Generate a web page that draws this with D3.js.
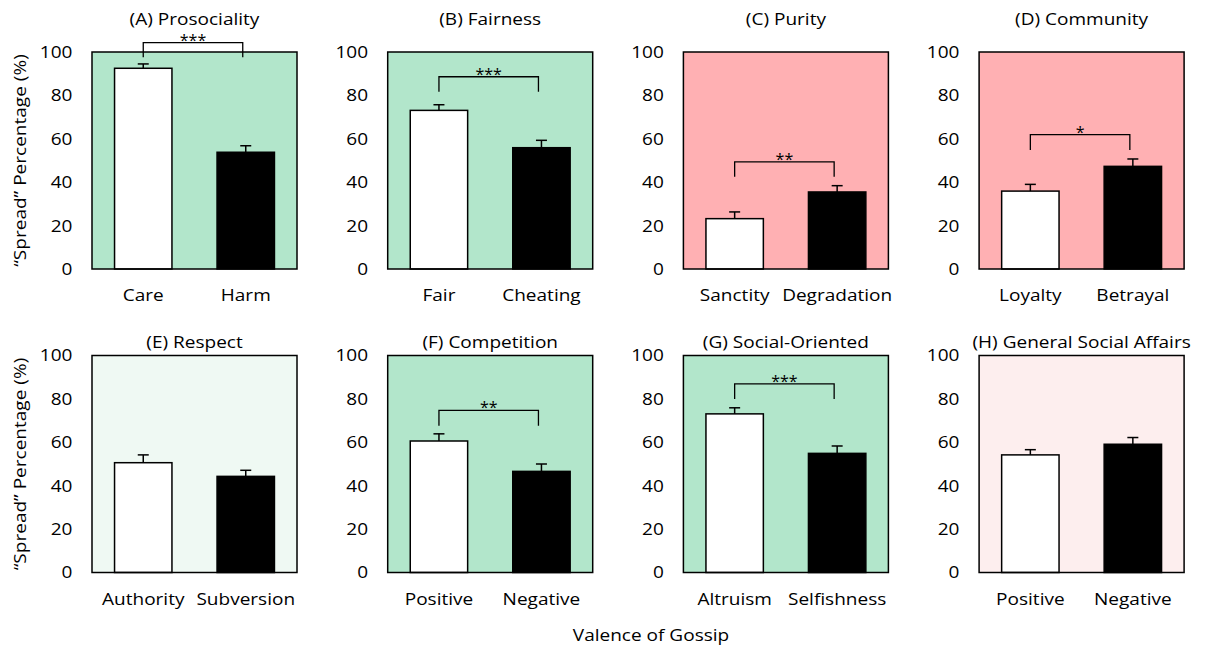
<!DOCTYPE html>
<html lang="en">
<head>
<meta charset="UTF-8">
<title>Spread percentage by gossip valence</title>
<script src="https://cdn.jsdelivr.net/npm/d3@7"></script>
<style>
  body { margin: 0; background: #fff; }
  text { font-family: "Open Sans", sans-serif; fill: #000; }
</style>
</head>
<body>
<div id="chart"></div>
<script>
// panel data (A..H)
var panelTitles = ["(A) Prosociality", "(B) Fairness", "(C) Purity", "(D) Community",
                   "(E) Respect", "(F) Competition", "(G) Social-Oriented", "(H) General Social Affairs"];
var leftLabels  = ["Care", "Fair", "Sanctity", "Loyalty", "Authority", "Positive", "Altruism", "Positive"];
var rightLabels = ["Harm", "Cheating", "Degradation", "Betrayal", "Subversion", "Negative", "Selfishness", "Negative"];
var leftMeans   = [92.5, 73.1, 23.2, 35.9, 50.6, 60.6, 73.1, 54.2];
var leftErrors  = [2.0, 2.6, 3.1, 3.1, 3.6, 3.3, 2.8, 2.4];
var rightMeans  = [53.8, 55.9, 35.5, 47.3, 44.3, 46.6, 54.9, 59.1];
var rightErrors = [3.0, 3.4, 2.9, 3.4, 2.8, 3.4, 3.4, 3.1];
var sigLabels   = ["***", "***", "**", "*", "", "**", "***", ""];
var bracketTop  = [104.3, 88.6, 49.4, 61.9, null, 74.7, 86.9, null];
var bracketFoot = [97.6, 81.7, 42.5, 54.8, null, 67.6, 80.0, null];
var panelFills  = ["#b2e6cb", "#b2e6cb", "#ffb0b3", "#ffb0b3", "#eff9f3", "#b2e6cb", "#b2e6cb", "#fdeeee"];
var yTicks      = [0, 20, 40, 60, 80, 100];

var W = 1206, H = 653;
var pw = 205, ph = 217;
var stretch = 1.12;   // source text is a bit wider than the fonts we have

var svg = d3.select("#chart").append("svg")
    .attr("width", W)
    .attr("height", H);

function stretchedText(g, x, y, str, size, anchor) {
    return g.append("text")
        .attr("transform", "translate(" + x + "," + y + ") scale(" + stretch + ",1)")
        .attr("text-anchor", anchor || "middle")
        .style("font-size", size + "px")
        .text(str);
}

var y = d3.scaleLinear().domain([0, 100]).range([ph, 0]);

panelTitles.forEach(function (title, i) {
    var col = i % 4, row = Math.floor(i / 4);
    var left = 92 + col * 295.7;
    var top = row === 0 ? 52 : 355.5;

    var g = svg.append("g").attr("transform", "translate(" + left + "," + top + ")");

    var x = d3.scaleBand()
        .domain([leftLabels[i], rightLabels[i] + " "])
        .range([0, pw])
        .paddingInner(0.44)
        .paddingOuter(0.22);

    // background
    g.append("rect")
        .attr("width", pw).attr("height", ph)
        .attr("fill", panelFills[i]);

    var bars = [
        {cat: leftLabels[i], mean: leftMeans[i], err: leftErrors[i], fill: "#fff"},
        {cat: rightLabels[i] + " ", mean: rightMeans[i], err: rightErrors[i], fill: "#000"}
    ];

    g.selectAll(".bar").data(bars).enter().append("rect")
        .attr("class", "bar")
        .attr("x", function (d) { return x(d.cat); })
        .attr("y", function (d) { return y(d.mean); })
        .attr("width", x.bandwidth())
        .attr("height", function (d) { return ph - y(d.mean); })
        .attr("fill", function (d) { return d.fill; })
        .attr("stroke", "#000")
        .attr("stroke-width", 1.5);

    // error bars (upper only)
    var eb = g.selectAll(".err").data(bars).enter().append("g").attr("class", "err");
    eb.append("line")
        .attr("x1", function (d) { return x(d.cat) + x.bandwidth() / 2; })
        .attr("x2", function (d) { return x(d.cat) + x.bandwidth() / 2; })
        .attr("y1", function (d) { return y(d.mean); })
        .attr("y2", function (d) { return y(d.mean + d.err); })
        .attr("stroke", "#000").attr("stroke-width", 1.5);
    eb.append("line")
        .attr("x1", function (d) { return x(d.cat) + x.bandwidth() / 2 - 5.5; })
        .attr("x2", function (d) { return x(d.cat) + x.bandwidth() / 2 + 5.5; })
        .attr("y1", function (d) { return y(d.mean + d.err); })
        .attr("y2", function (d) { return y(d.mean + d.err); })
        .attr("stroke", "#000").attr("stroke-width", 1.5);

    // frame
    g.append("rect")
        .attr("width", pw).attr("height", ph)
        .attr("fill", "none")
        .attr("stroke", "#000")
        .attr("stroke-width", 1.5);

    // y axis
    var ya = g.append("g")
        .call(d3.axisLeft(y).tickValues(yTicks).tickSize(0).tickPadding(17.5));
    ya.select(".domain").remove();
    ya.selectAll("text")
        .style("font-size", "17px")
        .style("font-family", "'Open Sans', sans-serif")
        .attr("fill", "#000")
        .attr("transform", "scale(" + stretch + ",1)");

    // category labels
    bars.forEach(function (d) {
        stretchedText(g, x(d.cat) + x.bandwidth() / 2, ph + 32, d.cat.trim(), 17);
    });

    // title
    stretchedText(g, pw / 2, row === 0 ? -27 : -8, title, 17);

    // significance bracket
    if (bracketTop[i] !== null) {
        var x1 = x(bars[0].cat) + x.bandwidth() / 2;
        var x2 = x(bars[1].cat) + x.bandwidth() / 2 - 3;
        g.append("path")
            .attr("d", "M" + x1 + "," + y(bracketFoot[i]) +
                       "V" + y(bracketTop[i]) +
                       "H" + x2 +
                       "V" + y(bracketFoot[i]))
            .attr("fill", "none")
            .attr("stroke", "#000")
            .attr("stroke-width", 1.3);
        g.append("text")
            .attr("x", (x1 + x2) / 2)
            .attr("y", y(bracketTop[i]) + 3)
            .attr("text-anchor", "middle")
            .style("font-size", "16px")
            .text(sigLabels[i]);
    }
});

// y axis titles
[160.5, 464].forEach(function (cy) {
    svg.append("text")
        .attr("transform", "translate(26," + cy + ") rotate(-90) scale(" + stretch + ",1)")
        .attr("text-anchor", "middle")
        .style("font-size", "17px")
        .text("\u201CSpread\u201D Percentage (%)");
});

// x axis title
stretchedText(svg, 651, 641, "Valence of Gossip", 17);
</script>
</body>
</html>
